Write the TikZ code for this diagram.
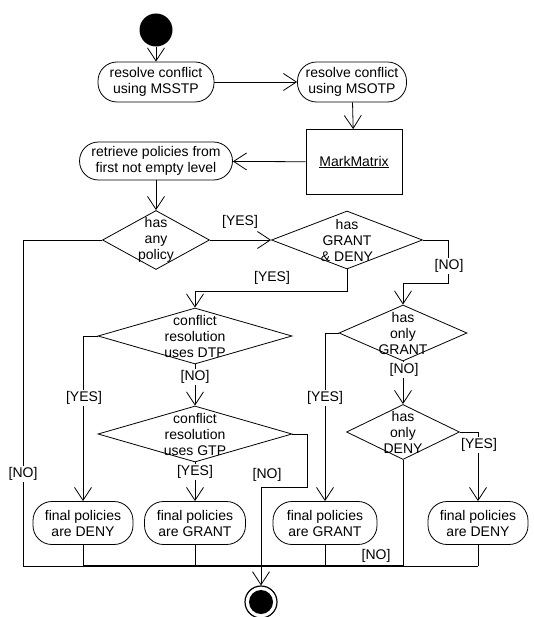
\documentclass[tikz,border=0pt]{standalone}
\usepackage{fontspec}
\setmainfont{Liberation Sans}
\usetikzlibrary{shapes.geometric,arrows.meta}
\begin{document}
\begin{tikzpicture}[x=1pt,y=-1pt,
  every node/.style={font=\fontsize{14}{16}\selectfont},
  flow/.style={draw=black, line width=0.8pt},
  arr/.style={flow, -{Straight Barb[length=13pt,width=17pt]}},
  act/.style={draw, line width=0.8pt, rounded corners=19pt, align=center, inner sep=0pt},
  dec/.style={draw, diamond, line width=0.8pt, inner sep=0pt},
  guard/.style={fill=white, inner sep=1pt},
]
\useasboundingbox (0,0) rectangle (534,617);

% initial and final states
\node[circle, fill=black, minimum size=33pt, inner sep=0pt] (start) at (156,30) {};
\node[circle, draw, line width=1.2pt, minimum size=32pt, inner sep=0pt] (end) at (261,602) {};
\node[circle, fill=black, minimum size=24pt, inner sep=0pt] (endc) at (end) {};

% actions
\node[act, minimum width=116pt, minimum height=40pt] (a1) at (156,82) {resolve conflict\\using MSSTP};
\node[act, minimum width=109pt, minimum height=40pt] (a2) at (352,82) {resolve conflict\\using MSOTP};
\node[draw, line width=0.8pt, minimum width=96pt, minimum height=65pt] (mm) at (354,162) {\underline{MarkMatrix}};
\node[act, minimum width=153pt, minimum height=38pt] (a3) at (156,161) {retrieve policies from\\first not empty level};

% decisions
\node[dec, minimum width=107pt, minimum height=59pt,
  label={[align=center]center:has\\any\\policy}] (d1) at (156,240) {};
\node[dec, minimum width=151pt, minimum height=58pt,
  label={[align=center]center:has\\GRANT\\\& DENY}] (d2) at (347,240) {};
\node[dec, minimum width=194pt, minimum height=56pt,
  label={[align=center]center:conflict\\resolution\\uses DTP}] (d3) at (195,336) {};
\node[dec, minimum width=128pt, minimum height=56pt,
  label={[align=center]center:has\\only\\GRANT}] (d4) at (403,333) {};
\node[dec, minimum width=194pt, minimum height=56pt,
  label={[align=center]center:conflict\\resolution\\uses GTP}] (d5) at (195,434) {};
\node[dec, minimum width=113pt, minimum height=55pt,
  label={[align=center]center:has\\only\\DENY}] (d6) at (403,432) {};

% outcomes
\node[act, minimum width=100pt, minimum height=43pt] (f1) at (83,523) {final policies\\are DENY};
\node[act, minimum width=101pt, minimum height=43pt] (f2) at (195,523) {final policies\\are GRANT};
\node[act, minimum width=104pt, minimum height=43pt] (f3) at (325,523) {final policies\\are GRANT};
\node[act, minimum width=100pt, minimum height=43pt] (f4) at (478,523) {final policies\\are DENY};

% join bar
\coordinate (barL) at (23,566);
\coordinate (barR) at (478,566);

% control flow
\draw[arr] (start) -- (a1);
\draw[arr] (a1) -- (a2);
\draw[arr] (a2) -- (mm);
\draw[arr] (mm) -- (a3);
\draw[arr] (a3) -- (d1);
\draw[arr] (d1) -- (d2);
\draw[flow] (d1.west) -| (barL);
\draw[arr] (d2.south) -- ++(0,22) -| (d3.north);
\draw[arr] (d2.east) -| (448,283) -| (d4.north);
\draw[arr] (d3.west) -| (f1.north);
\draw[arr] (d3) -- (d5);
\draw[arr] (d5) -- (f2);
\draw[arr] (d5.east) -| (307,487) -| (end.north);
\draw[arr] (d4.west) -| (f3.north);
\draw[arr] (d4) -- (d6);
\draw[arr] (d6.east) -| (f4.north);
\draw[flow] (d6.south) -- (d6.south |- barL);
\foreach \f in {f1,f2,f3,f4}
  \draw[flow] (\f.south) -- (\f.south |- barL);
\draw[flow] (barL) -- (barR);
\draw[line width=2pt] (f1.south |- barL) -- (d6.south |- barL);

% guards
\node (g1) at (240,222) {[YES]};
\node[guard] (g2) at (23,474) {[NO]};
\node (g3) at (272,278) {[YES]};
\node[guard] (g4) at (449,266) {[NO]};
\node[guard] (g5) at (84,398) {[YES]};
\node[guard] (g6) at (195,377) {[NO]};
\node[guard] (g7) at (195,472) {[YES]};
\node (g8) at (267,475) {[NO]};
\node[guard] (g9) at (325,398) {[YES]};
\node[guard] (g10) at (404,370) {[NO]};
\node[guard] (g11) at (479,445) {[YES]};
\node (g12) at (376,556) {[NO]};
\end{tikzpicture}
\end{document}
